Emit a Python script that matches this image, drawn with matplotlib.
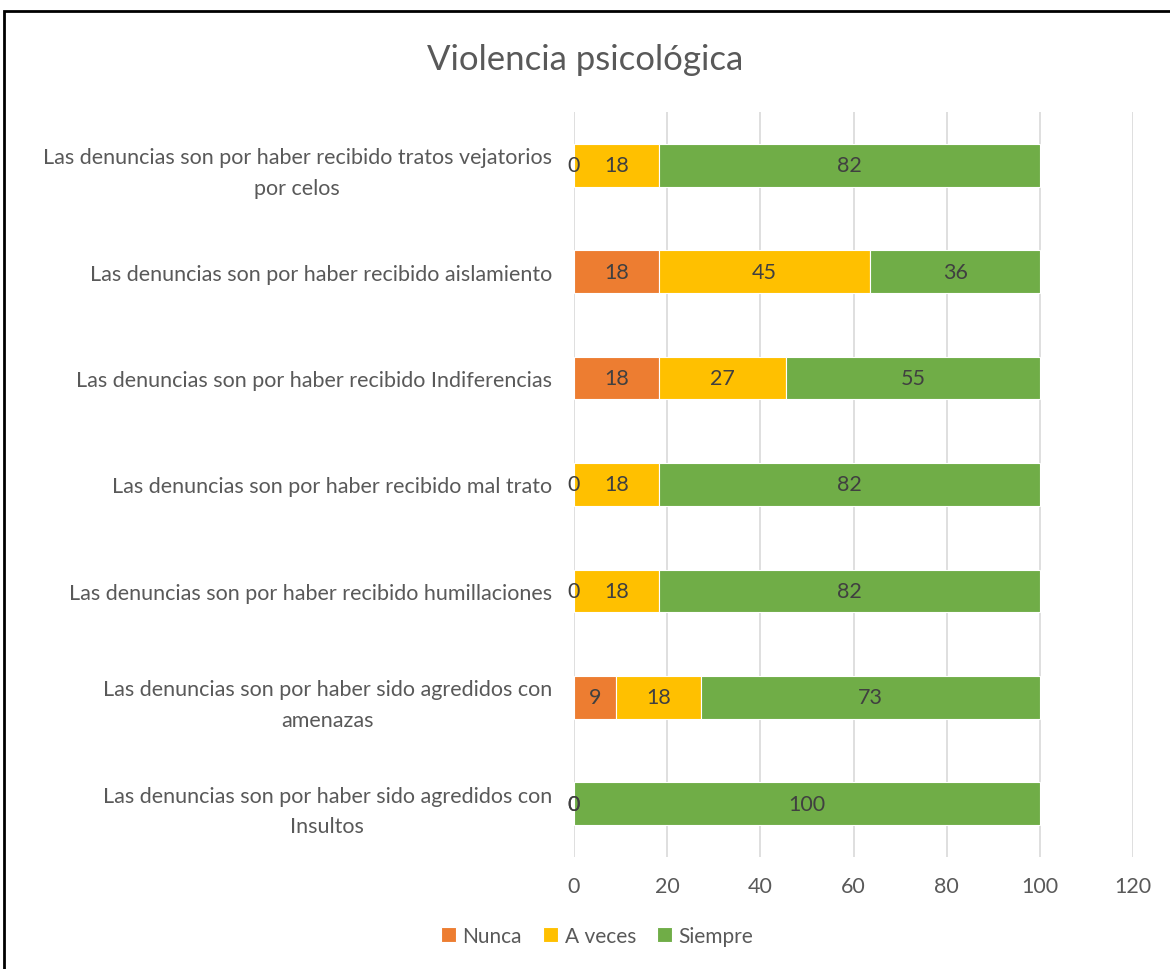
import numpy as np
import matplotlib.pyplot as plt
from matplotlib.patches import Rectangle

# data, bottom to top as drawn (percent of cases, labels show rounded values)
categories = [
    "Las denuncias son por haber sido agredidos con\nInsultos",
    "Las denuncias son por haber sido agredidos con\namenazas",
    "Las denuncias son por haber recibido humillaciones",
    "Las denuncias son por haber recibido mal trato",
    "Las denuncias son por haber recibido Indiferencias",
    "Las denuncias son por haber recibido aislamiento",
    "Las denuncias son por haber recibido tratos vejatorios\npor celos",
]
nunca = [0, 9.09, 0, 0, 18.18, 18.18, 0]
a_veces = [0, 18.18, 18.18, 18.18, 27.27, 45.45, 18.18]
siempre = [100, 72.73, 81.82, 81.82, 54.55, 36.36, 81.82]
series_names = ["Nunca", "A veces", "Siempre"]
colors = ["#ED7D31", "#FFC000", "#70AD47"]
xticks = [0, 20, 40, 60, 80, 100, 120]

plt.rcParams['font.family'] = ['Lato', 'DejaVu Sans']
txt = "#595959"

fig = plt.figure(figsize=(11.7, 9.7), dpi=100)
ax = fig.add_axes([0.4906, 0.1155, 0.4778, 0.768])

y = np.arange(len(categories))
left = np.zeros(len(categories))
for vals, name, c in zip([nunca, a_veces, siempre], series_names, colors):
    vals = np.array(vals, dtype=float)
    ax.barh(y, vals, left=left, height=0.4, color=c, edgecolor="white",
            linewidth=0.8, label=name, zorder=3)
    for yi, l, v in zip(y, left, vals):
        ax.text(l + v / 2, yi, f"{v:.0f}", ha="center", va="center",
                fontsize=15.5, color="#404040", zorder=4)
    left += vals

ax.set_xlim(0, 120)
ax.set_ylim(-0.5, len(categories) - 0.5)
ax.set_xticks(xticks)
ax.set_yticks(y)
ax.set_yticklabels(categories, multialignment="center", linespacing=1.65)
ax.tick_params(axis="both", length=0, labelsize=15.5, labelcolor=txt)
ax.tick_params(axis="y", pad=16)
ax.tick_params(axis="x", pad=14)
ax.grid(axis="x", color="#D9D9D9", linewidth=1.2, zorder=0)
for s in ax.spines.values():
    s.set_visible(False)

fig.suptitle("Violencia psicológica", y=0.955, fontsize=25, color=txt)

ax.legend(loc="center", bbox_to_anchor=(597 / 1170, 1 - 937 / 970),
          bbox_transform=fig.transFigure, ncol=3, frameon=False,
          fontsize=15, handlelength=0.75, handleheight=0.75,
          handletextpad=0.3, columnspacing=1.0, labelcolor=txt)

# outer frame like the pasted Excel chart
fig.patches.append(Rectangle((4 / 1170, -0.1), 1.2, 1 - 12 / 970 + 0.1,
                             transform=fig.transFigure, fill=False,
                             edgecolor="black", linewidth=2))

fig.savefig("out.png", dpi=100, facecolor="white")
